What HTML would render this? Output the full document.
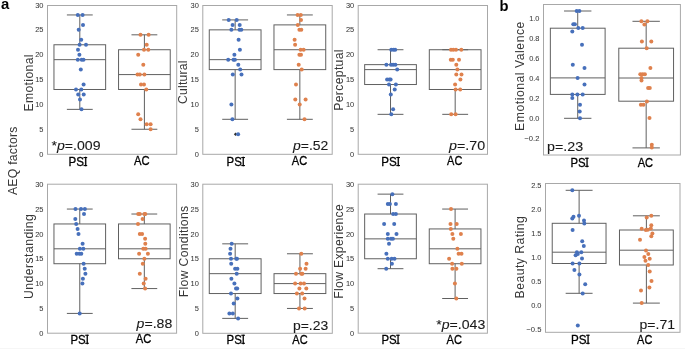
<!DOCTYPE html>
<html><head><meta charset="utf-8"><style>
html,body{margin:0;padding:0;background:#fff;width:685px;height:349px;overflow:hidden;}
svg{display:block;font-family:"Liberation Sans",sans-serif;filter:blur(0.25px);}
</style></head><body>
<svg width="685" height="349" viewBox="0 0 685 349">
<rect width="685" height="349" fill="#fff"/>
<rect x="0" y="348" width="685" height="1" fill="#f6f6f6"/>
<rect x="53.96" y="44.76" width="51.68" height="44.73" fill="none" stroke="#606060" stroke-width="1"/>
<line x1="53.96" x2="105.64" y1="59.67" y2="59.67" stroke="#606060" stroke-width="1"/>
<line x1="79.8" x2="79.8" y1="89.49" y2="109.37" stroke="#606060" stroke-width="1"/>
<line x1="79.8" x2="79.8" y1="44.76" y2="14.94" stroke="#606060" stroke-width="1"/>
<line x1="66.88" x2="92.72" y1="109.37" y2="109.37" stroke="#606060" stroke-width="1"/>
<line x1="66.88" x2="92.72" y1="14.94" y2="14.94" stroke="#606060" stroke-width="1"/>
<rect x="118.56" y="49.73" width="51.68" height="39.76" fill="none" stroke="#606060" stroke-width="1"/>
<line x1="118.56" x2="170.24" y1="74.58" y2="74.58" stroke="#606060" stroke-width="1"/>
<line x1="144.4" x2="144.4" y1="89.49" y2="129.25" stroke="#606060" stroke-width="1"/>
<line x1="144.4" x2="144.4" y1="49.73" y2="34.82" stroke="#606060" stroke-width="1"/>
<line x1="131.48" x2="157.32" y1="129.25" y2="129.25" stroke="#606060" stroke-width="1"/>
<line x1="131.48" x2="157.32" y1="34.82" y2="34.82" stroke="#606060" stroke-width="1"/>
<circle cx="77.8" cy="14.94" r="2.0" fill="#4770bb"/>
<circle cx="82.6" cy="14.94" r="2.0" fill="#4770bb"/>
<circle cx="83" cy="24.88" r="2.0" fill="#4770bb"/>
<circle cx="78.7" cy="29.85" r="2.0" fill="#4770bb"/>
<circle cx="81.2" cy="39.79" r="2.0" fill="#4770bb"/>
<circle cx="79.6" cy="44.76" r="2.0" fill="#4770bb"/>
<circle cx="86" cy="44.76" r="2.0" fill="#4770bb"/>
<circle cx="78" cy="49.73" r="2.0" fill="#4770bb"/>
<circle cx="79.4" cy="54.7" r="2.0" fill="#4770bb"/>
<circle cx="77.8" cy="59.67" r="2.0" fill="#4770bb"/>
<circle cx="81.7" cy="59.67" r="2.0" fill="#4770bb"/>
<circle cx="83.5" cy="59.67" r="2.0" fill="#4770bb"/>
<circle cx="80.8" cy="69.61" r="2.0" fill="#4770bb"/>
<circle cx="83.6" cy="84.52" r="2.0" fill="#4770bb"/>
<circle cx="76" cy="89.49" r="2.0" fill="#4770bb"/>
<circle cx="81.3" cy="89.49" r="2.0" fill="#4770bb"/>
<circle cx="78.2" cy="94.46" r="2.0" fill="#4770bb"/>
<circle cx="83.7" cy="94.46" r="2.0" fill="#4770bb"/>
<circle cx="80" cy="99.43" r="2.0" fill="#4770bb"/>
<circle cx="81.5" cy="109.37" r="2.0" fill="#4770bb"/>
<circle cx="140.5" cy="34.82" r="2.0" fill="#df814d"/>
<circle cx="148.6" cy="34.82" r="2.0" fill="#df814d"/>
<circle cx="146.7" cy="44.76" r="2.0" fill="#df814d"/>
<circle cx="144" cy="49.73" r="2.0" fill="#df814d"/>
<circle cx="148.3" cy="49.73" r="2.0" fill="#df814d"/>
<circle cx="138.2" cy="54.7" r="2.0" fill="#df814d"/>
<circle cx="143.3" cy="64.64" r="2.0" fill="#df814d"/>
<circle cx="137.5" cy="74.58" r="2.0" fill="#df814d"/>
<circle cx="139.8" cy="74.58" r="2.0" fill="#df814d"/>
<circle cx="144.4" cy="74.58" r="2.0" fill="#df814d"/>
<circle cx="141" cy="84.52" r="2.0" fill="#df814d"/>
<circle cx="144" cy="84.52" r="2.0" fill="#df814d"/>
<circle cx="146.3" cy="89.49" r="2.0" fill="#df814d"/>
<circle cx="138.2" cy="114.34" r="2.0" fill="#df814d"/>
<circle cx="140.5" cy="119.31" r="2.0" fill="#df814d"/>
<circle cx="146.7" cy="124.28" r="2.0" fill="#df814d"/>
<circle cx="150.6" cy="124.28" r="2.0" fill="#df814d"/>
<circle cx="150.6" cy="129.25" r="2.0" fill="#df814d"/>
<rect x="47.5" y="5.5" width="129.2" height="148.8" fill="none" stroke="#a8a8a8" stroke-width="1"/>
<rect x="209.27" y="29.85" width="51.76" height="39.76" fill="none" stroke="#606060" stroke-width="1"/>
<line x1="209.27" x2="261.03" y1="59.67" y2="59.67" stroke="#606060" stroke-width="1"/>
<line x1="235.15" x2="235.15" y1="69.61" y2="119.31" stroke="#606060" stroke-width="1"/>
<line x1="235.15" x2="235.15" y1="29.85" y2="19.91" stroke="#606060" stroke-width="1"/>
<line x1="222.21" x2="248.09" y1="119.31" y2="119.31" stroke="#606060" stroke-width="1"/>
<line x1="222.21" x2="248.09" y1="19.91" y2="19.91" stroke="#606060" stroke-width="1"/>
<rect x="273.97" y="24.88" width="51.76" height="44.73" fill="none" stroke="#606060" stroke-width="1"/>
<line x1="273.97" x2="325.73" y1="49.73" y2="49.73" stroke="#606060" stroke-width="1"/>
<line x1="299.85" x2="299.85" y1="69.61" y2="119.31" stroke="#606060" stroke-width="1"/>
<line x1="299.85" x2="299.85" y1="24.88" y2="14.94" stroke="#606060" stroke-width="1"/>
<line x1="286.91" x2="312.79" y1="119.31" y2="119.31" stroke="#606060" stroke-width="1"/>
<line x1="286.91" x2="312.79" y1="14.94" y2="14.94" stroke="#606060" stroke-width="1"/>
<path d="M233.85 134.22 L235.55 132.52 L237.25 134.22 L235.55 135.92 Z" fill="#333"/>
<circle cx="228.7" cy="19.91" r="2.0" fill="#4770bb"/>
<circle cx="236.7" cy="19.91" r="2.0" fill="#4770bb"/>
<circle cx="232.6" cy="24.88" r="2.0" fill="#4770bb"/>
<circle cx="239.7" cy="24.88" r="2.0" fill="#4770bb"/>
<circle cx="231.4" cy="29.85" r="2.0" fill="#4770bb"/>
<circle cx="239.5" cy="29.85" r="2.0" fill="#4770bb"/>
<circle cx="241.3" cy="29.85" r="2.0" fill="#4770bb"/>
<circle cx="238.6" cy="39.79" r="2.0" fill="#4770bb"/>
<circle cx="239.9" cy="49.73" r="2.0" fill="#4770bb"/>
<circle cx="234.4" cy="54.7" r="2.0" fill="#4770bb"/>
<circle cx="228.2" cy="59.67" r="2.0" fill="#4770bb"/>
<circle cx="233.5" cy="59.67" r="2.0" fill="#4770bb"/>
<circle cx="234.9" cy="59.67" r="2.0" fill="#4770bb"/>
<circle cx="238.3" cy="64.64" r="2.0" fill="#4770bb"/>
<circle cx="240.2" cy="69.61" r="2.0" fill="#4770bb"/>
<circle cx="232.8" cy="74.58" r="2.0" fill="#4770bb"/>
<circle cx="241.5" cy="74.58" r="2.0" fill="#4770bb"/>
<circle cx="231.4" cy="104.4" r="2.0" fill="#4770bb"/>
<circle cx="232.4" cy="119.31" r="2.0" fill="#4770bb"/>
<circle cx="238.1" cy="134.22" r="2.0" fill="#4770bb"/>
<circle cx="297.6" cy="14.94" r="2.0" fill="#df814d"/>
<circle cx="300.8" cy="14.94" r="2.0" fill="#df814d"/>
<circle cx="301" cy="19.91" r="2.0" fill="#df814d"/>
<circle cx="297.8" cy="24.88" r="2.0" fill="#df814d"/>
<circle cx="299.4" cy="29.85" r="2.0" fill="#df814d"/>
<circle cx="301.3" cy="29.85" r="2.0" fill="#df814d"/>
<circle cx="294.6" cy="39.79" r="2.0" fill="#df814d"/>
<circle cx="295.1" cy="44.76" r="2.0" fill="#df814d"/>
<circle cx="300.6" cy="49.73" r="2.0" fill="#df814d"/>
<circle cx="303.6" cy="49.73" r="2.0" fill="#df814d"/>
<circle cx="299.4" cy="54.7" r="2.0" fill="#df814d"/>
<circle cx="301" cy="54.7" r="2.0" fill="#df814d"/>
<circle cx="298.7" cy="64.64" r="2.0" fill="#df814d"/>
<circle cx="301.7" cy="69.61" r="2.0" fill="#df814d"/>
<circle cx="296" cy="84.52" r="2.0" fill="#df814d"/>
<circle cx="295.3" cy="99.43" r="2.0" fill="#df814d"/>
<circle cx="305.6" cy="99.43" r="2.0" fill="#df814d"/>
<circle cx="299.7" cy="104.4" r="2.0" fill="#df814d"/>
<circle cx="304.5" cy="119.31" r="2.0" fill="#df814d"/>
<rect x="202.8" y="5.5" width="129.4" height="148.8" fill="none" stroke="#a8a8a8" stroke-width="1"/>
<rect x="364.66" y="64.64" width="51.72" height="19.88" fill="none" stroke="#606060" stroke-width="1"/>
<line x1="364.66" x2="416.38" y1="69.61" y2="69.61" stroke="#606060" stroke-width="1"/>
<line x1="390.52" x2="390.52" y1="84.52" y2="114.34" stroke="#606060" stroke-width="1"/>
<line x1="390.52" x2="390.52" y1="64.64" y2="49.73" stroke="#606060" stroke-width="1"/>
<line x1="377.59" x2="403.45" y1="114.34" y2="114.34" stroke="#606060" stroke-width="1"/>
<line x1="377.59" x2="403.45" y1="49.73" y2="49.73" stroke="#606060" stroke-width="1"/>
<rect x="429.31" y="49.73" width="51.72" height="39.76" fill="none" stroke="#606060" stroke-width="1"/>
<line x1="429.31" x2="481.04" y1="69.61" y2="69.61" stroke="#606060" stroke-width="1"/>
<line x1="455.18" x2="455.18" y1="89.49" y2="114.34" stroke="#606060" stroke-width="1"/>
<line x1="455.18" x2="455.18" y1="49.73" y2="49.73" stroke="#606060" stroke-width="1"/>
<line x1="442.25" x2="468.11" y1="114.34" y2="114.34" stroke="#606060" stroke-width="1"/>
<line x1="442.25" x2="468.11" y1="49.73" y2="49.73" stroke="#606060" stroke-width="1"/>
<circle cx="391.3" cy="49.73" r="2.0" fill="#4770bb"/>
<circle cx="393.6" cy="49.73" r="2.0" fill="#4770bb"/>
<circle cx="395.2" cy="49.73" r="2.0" fill="#4770bb"/>
<circle cx="386.4" cy="64.64" r="2.0" fill="#4770bb"/>
<circle cx="391" cy="64.64" r="2.0" fill="#4770bb"/>
<circle cx="393.1" cy="64.64" r="2.0" fill="#4770bb"/>
<circle cx="395.4" cy="64.64" r="2.0" fill="#4770bb"/>
<circle cx="397.2" cy="69.61" r="2.0" fill="#4770bb"/>
<circle cx="387.1" cy="79.55" r="2.0" fill="#4770bb"/>
<circle cx="389.4" cy="79.55" r="2.0" fill="#4770bb"/>
<circle cx="390.6" cy="79.55" r="2.0" fill="#4770bb"/>
<circle cx="389" cy="84.52" r="2.0" fill="#4770bb"/>
<circle cx="395.9" cy="84.52" r="2.0" fill="#4770bb"/>
<circle cx="394.7" cy="89.49" r="2.0" fill="#4770bb"/>
<circle cx="390.8" cy="94.46" r="2.0" fill="#4770bb"/>
<circle cx="393.1" cy="109.37" r="2.0" fill="#4770bb"/>
<circle cx="391.3" cy="114.34" r="2.0" fill="#4770bb"/>
<circle cx="451" cy="49.73" r="2.0" fill="#df814d"/>
<circle cx="453.3" cy="49.73" r="2.0" fill="#df814d"/>
<circle cx="456" cy="49.73" r="2.0" fill="#df814d"/>
<circle cx="461.3" cy="49.73" r="2.0" fill="#df814d"/>
<circle cx="450.8" cy="59.67" r="2.0" fill="#df814d"/>
<circle cx="452.8" cy="59.67" r="2.0" fill="#df814d"/>
<circle cx="459" cy="59.67" r="2.0" fill="#df814d"/>
<circle cx="456.3" cy="64.64" r="2.0" fill="#df814d"/>
<circle cx="457.4" cy="69.61" r="2.0" fill="#df814d"/>
<circle cx="456.3" cy="74.58" r="2.0" fill="#df814d"/>
<circle cx="461.5" cy="74.58" r="2.0" fill="#df814d"/>
<circle cx="460.4" cy="79.55" r="2.0" fill="#df814d"/>
<circle cx="455.1" cy="84.52" r="2.0" fill="#df814d"/>
<circle cx="455.6" cy="89.49" r="2.0" fill="#df814d"/>
<circle cx="460.2" cy="89.49" r="2.0" fill="#df814d"/>
<circle cx="451.2" cy="114.34" r="2.0" fill="#df814d"/>
<circle cx="455.6" cy="114.34" r="2.0" fill="#df814d"/>
<rect x="358.2" y="5.5" width="129.3" height="148.8" fill="none" stroke="#a8a8a8" stroke-width="1"/>
<rect x="550.35" y="28.2" width="54.76" height="66.2" fill="none" stroke="#606060" stroke-width="1"/>
<line x1="550.35" x2="605.11" y1="77.9" y2="77.9" stroke="#606060" stroke-width="1"/>
<line x1="577.73" x2="577.73" y1="94.4" y2="118.3" stroke="#606060" stroke-width="1"/>
<line x1="577.73" x2="577.73" y1="28.2" y2="11" stroke="#606060" stroke-width="1"/>
<line x1="564.04" x2="591.41" y1="118.3" y2="118.3" stroke="#606060" stroke-width="1"/>
<line x1="564.04" x2="591.41" y1="11" y2="11" stroke="#606060" stroke-width="1"/>
<rect x="618.79" y="48.2" width="54.76" height="53" fill="none" stroke="#606060" stroke-width="1"/>
<line x1="618.79" x2="673.55" y1="78" y2="78" stroke="#606060" stroke-width="1"/>
<line x1="646.17" x2="646.17" y1="101.2" y2="147.9" stroke="#606060" stroke-width="1"/>
<line x1="646.17" x2="646.17" y1="48.2" y2="21.3" stroke="#606060" stroke-width="1"/>
<line x1="632.48" x2="659.87" y1="147.9" y2="147.9" stroke="#606060" stroke-width="1"/>
<line x1="632.48" x2="659.87" y1="21.3" y2="21.3" stroke="#606060" stroke-width="1"/>
<circle cx="576.7" cy="11" r="2.0" fill="#4770bb"/>
<circle cx="579.4" cy="11" r="2.0" fill="#4770bb"/>
<circle cx="573.3" cy="24.3" r="2.0" fill="#4770bb"/>
<circle cx="574.9" cy="24.3" r="2.0" fill="#4770bb"/>
<circle cx="578.3" cy="28" r="2.0" fill="#4770bb"/>
<circle cx="582.7" cy="28" r="2.0" fill="#4770bb"/>
<circle cx="572.3" cy="31.4" r="2.0" fill="#4770bb"/>
<circle cx="582" cy="44.7" r="2.0" fill="#4770bb"/>
<circle cx="572.8" cy="64.7" r="2.0" fill="#4770bb"/>
<circle cx="584.5" cy="68" r="2.0" fill="#4770bb"/>
<circle cx="577.6" cy="78" r="2.0" fill="#4770bb"/>
<circle cx="584.5" cy="84.5" r="2.0" fill="#4770bb"/>
<circle cx="572.3" cy="94.6" r="2.0" fill="#4770bb"/>
<circle cx="577.4" cy="94.6" r="2.0" fill="#4770bb"/>
<circle cx="582.7" cy="94.6" r="2.0" fill="#4770bb"/>
<circle cx="572.3" cy="98.1" r="2.0" fill="#4770bb"/>
<circle cx="580" cy="104.7" r="2.0" fill="#4770bb"/>
<circle cx="579.7" cy="111.4" r="2.0" fill="#4770bb"/>
<circle cx="580" cy="118.3" r="2.0" fill="#4770bb"/>
<circle cx="641.4" cy="21.3" r="2.0" fill="#df814d"/>
<circle cx="647.4" cy="21.3" r="2.0" fill="#df814d"/>
<circle cx="644.4" cy="24.5" r="2.0" fill="#df814d"/>
<circle cx="641.9" cy="41.5" r="2.0" fill="#df814d"/>
<circle cx="651.3" cy="41.5" r="2.0" fill="#df814d"/>
<circle cx="646.7" cy="48.2" r="2.0" fill="#df814d"/>
<circle cx="650.4" cy="68.1" r="2.0" fill="#df814d"/>
<circle cx="640.3" cy="74.3" r="2.0" fill="#df814d"/>
<circle cx="642.6" cy="74.3" r="2.0" fill="#df814d"/>
<circle cx="644.9" cy="74.3" r="2.0" fill="#df814d"/>
<circle cx="641.5" cy="78" r="2.0" fill="#df814d"/>
<circle cx="641.5" cy="80.6" r="2.0" fill="#df814d"/>
<circle cx="648.1" cy="88.1" r="2.0" fill="#df814d"/>
<circle cx="649.8" cy="88.1" r="2.0" fill="#df814d"/>
<circle cx="646.9" cy="101.5" r="2.0" fill="#df814d"/>
<circle cx="640.9" cy="104.7" r="2.0" fill="#df814d"/>
<circle cx="643.5" cy="104.7" r="2.0" fill="#df814d"/>
<circle cx="649.5" cy="118.1" r="2.0" fill="#df814d"/>
<circle cx="651.8" cy="144.7" r="2.0" fill="#df814d"/>
<circle cx="651.8" cy="147.6" r="2.0" fill="#df814d"/>
<rect x="543.5" y="4.5" width="136.9" height="150.5" fill="none" stroke="#a8a8a8" stroke-width="1"/>
<rect x="53.96" y="223.96" width="51.64" height="39.76" fill="none" stroke="#606060" stroke-width="1"/>
<line x1="53.96" x2="105.59" y1="248.81" y2="248.81" stroke="#606060" stroke-width="1"/>
<line x1="79.78" x2="79.78" y1="263.72" y2="313.42" stroke="#606060" stroke-width="1"/>
<line x1="79.78" x2="79.78" y1="223.96" y2="209.05" stroke="#606060" stroke-width="1"/>
<line x1="66.87" x2="92.69" y1="313.42" y2="313.42" stroke="#606060" stroke-width="1"/>
<line x1="66.87" x2="92.69" y1="209.05" y2="209.05" stroke="#606060" stroke-width="1"/>
<rect x="118.5" y="223.96" width="51.64" height="34.79" fill="none" stroke="#606060" stroke-width="1"/>
<line x1="118.5" x2="170.14" y1="248.81" y2="248.81" stroke="#606060" stroke-width="1"/>
<line x1="144.32" x2="144.32" y1="258.75" y2="288.57" stroke="#606060" stroke-width="1"/>
<line x1="144.32" x2="144.32" y1="223.96" y2="214.02" stroke="#606060" stroke-width="1"/>
<line x1="131.41" x2="157.23" y1="288.57" y2="288.57" stroke="#606060" stroke-width="1"/>
<line x1="131.41" x2="157.23" y1="214.02" y2="214.02" stroke="#606060" stroke-width="1"/>
<circle cx="75.5" cy="209.05" r="2.0" fill="#4770bb"/>
<circle cx="81" cy="209.05" r="2.0" fill="#4770bb"/>
<circle cx="84.9" cy="209.05" r="2.0" fill="#4770bb"/>
<circle cx="84" cy="214.02" r="2.0" fill="#4770bb"/>
<circle cx="75.3" cy="218.99" r="2.0" fill="#4770bb"/>
<circle cx="76.2" cy="223.96" r="2.0" fill="#4770bb"/>
<circle cx="77.6" cy="228.93" r="2.0" fill="#4770bb"/>
<circle cx="78.5" cy="233.9" r="2.0" fill="#4770bb"/>
<circle cx="82.6" cy="243.84" r="2.0" fill="#4770bb"/>
<circle cx="79.9" cy="248.81" r="2.0" fill="#4770bb"/>
<circle cx="83.3" cy="248.81" r="2.0" fill="#4770bb"/>
<circle cx="76.7" cy="253.78" r="2.0" fill="#4770bb"/>
<circle cx="79.4" cy="253.78" r="2.0" fill="#4770bb"/>
<circle cx="81.3" cy="253.78" r="2.0" fill="#4770bb"/>
<circle cx="83.6" cy="263.72" r="2.0" fill="#4770bb"/>
<circle cx="84.7" cy="268.69" r="2.0" fill="#4770bb"/>
<circle cx="85.4" cy="273.66" r="2.0" fill="#4770bb"/>
<circle cx="82.9" cy="278.63" r="2.0" fill="#4770bb"/>
<circle cx="82.4" cy="283.6" r="2.0" fill="#4770bb"/>
<circle cx="79.7" cy="313.42" r="2.0" fill="#4770bb"/>
<circle cx="138.2" cy="214.02" r="2.0" fill="#df814d"/>
<circle cx="139.8" cy="214.02" r="2.0" fill="#df814d"/>
<circle cx="144.4" cy="214.02" r="2.0" fill="#df814d"/>
<circle cx="145.3" cy="214.02" r="2.0" fill="#df814d"/>
<circle cx="142.6" cy="218.99" r="2.0" fill="#df814d"/>
<circle cx="138" cy="223.96" r="2.0" fill="#df814d"/>
<circle cx="139.8" cy="233.9" r="2.0" fill="#df814d"/>
<circle cx="142.1" cy="233.9" r="2.0" fill="#df814d"/>
<circle cx="145.1" cy="238.87" r="2.0" fill="#df814d"/>
<circle cx="145.3" cy="243.84" r="2.0" fill="#df814d"/>
<circle cx="143.3" cy="248.81" r="2.0" fill="#df814d"/>
<circle cx="145.6" cy="248.81" r="2.0" fill="#df814d"/>
<circle cx="139.1" cy="253.78" r="2.0" fill="#df814d"/>
<circle cx="147.9" cy="253.78" r="2.0" fill="#df814d"/>
<circle cx="144.4" cy="258.75" r="2.0" fill="#df814d"/>
<circle cx="142.8" cy="263.72" r="2.0" fill="#df814d"/>
<circle cx="139.8" cy="273.66" r="2.0" fill="#df814d"/>
<circle cx="145.6" cy="278.63" r="2.0" fill="#df814d"/>
<circle cx="143.7" cy="283.6" r="2.0" fill="#df814d"/>
<circle cx="145.1" cy="288.57" r="2.0" fill="#df814d"/>
<rect x="47.5" y="184.2" width="129.1" height="149" fill="none" stroke="#a8a8a8" stroke-width="1"/>
<rect x="209.28" y="258.75" width="51.8" height="34.79" fill="none" stroke="#606060" stroke-width="1"/>
<line x1="209.28" x2="261.07" y1="273.66" y2="273.66" stroke="#606060" stroke-width="1"/>
<line x1="235.18" x2="235.18" y1="293.54" y2="318.39" stroke="#606060" stroke-width="1"/>
<line x1="235.18" x2="235.18" y1="258.75" y2="243.84" stroke="#606060" stroke-width="1"/>
<line x1="222.23" x2="248.12" y1="318.39" y2="318.39" stroke="#606060" stroke-width="1"/>
<line x1="222.23" x2="248.12" y1="243.84" y2="243.84" stroke="#606060" stroke-width="1"/>
<rect x="274.03" y="273.66" width="51.8" height="19.88" fill="none" stroke="#606060" stroke-width="1"/>
<line x1="274.03" x2="325.82" y1="283.6" y2="283.6" stroke="#606060" stroke-width="1"/>
<line x1="299.93" x2="299.93" y1="293.54" y2="308.45" stroke="#606060" stroke-width="1"/>
<line x1="299.93" x2="299.93" y1="273.66" y2="253.78" stroke="#606060" stroke-width="1"/>
<line x1="286.98" x2="312.88" y1="308.45" y2="308.45" stroke="#606060" stroke-width="1"/>
<line x1="286.98" x2="312.88" y1="253.78" y2="253.78" stroke="#606060" stroke-width="1"/>
<circle cx="231.7" cy="243.84" r="2.0" fill="#4770bb"/>
<circle cx="230.5" cy="248.81" r="2.0" fill="#4770bb"/>
<circle cx="230.1" cy="253.78" r="2.0" fill="#4770bb"/>
<circle cx="231" cy="258.75" r="2.0" fill="#4770bb"/>
<circle cx="236.3" cy="258.75" r="2.0" fill="#4770bb"/>
<circle cx="237" cy="258.75" r="2.0" fill="#4770bb"/>
<circle cx="231.2" cy="263.72" r="2.0" fill="#4770bb"/>
<circle cx="235.1" cy="268.69" r="2.0" fill="#4770bb"/>
<circle cx="237.4" cy="268.69" r="2.0" fill="#4770bb"/>
<circle cx="236.7" cy="273.66" r="2.0" fill="#4770bb"/>
<circle cx="231.4" cy="278.63" r="2.0" fill="#4770bb"/>
<circle cx="234.4" cy="283.6" r="2.0" fill="#4770bb"/>
<circle cx="236" cy="288.57" r="2.0" fill="#4770bb"/>
<circle cx="237.2" cy="288.57" r="2.0" fill="#4770bb"/>
<circle cx="231" cy="293.54" r="2.0" fill="#4770bb"/>
<circle cx="237.4" cy="298.51" r="2.0" fill="#4770bb"/>
<circle cx="233.7" cy="303.48" r="2.0" fill="#4770bb"/>
<circle cx="229.4" cy="313.42" r="2.0" fill="#4770bb"/>
<circle cx="232.8" cy="313.42" r="2.0" fill="#4770bb"/>
<circle cx="238.1" cy="318.39" r="2.0" fill="#4770bb"/>
<circle cx="301.3" cy="253.78" r="2.0" fill="#df814d"/>
<circle cx="306.5" cy="263.72" r="2.0" fill="#df814d"/>
<circle cx="300.1" cy="268.69" r="2.0" fill="#df814d"/>
<circle cx="305.6" cy="268.69" r="2.0" fill="#df814d"/>
<circle cx="296" cy="273.66" r="2.0" fill="#df814d"/>
<circle cx="301.3" cy="273.66" r="2.0" fill="#df814d"/>
<circle cx="302.4" cy="273.66" r="2.0" fill="#df814d"/>
<circle cx="295.1" cy="283.6" r="2.0" fill="#df814d"/>
<circle cx="300.6" cy="283.6" r="2.0" fill="#df814d"/>
<circle cx="304" cy="283.6" r="2.0" fill="#df814d"/>
<circle cx="299.4" cy="288.57" r="2.0" fill="#df814d"/>
<circle cx="306.3" cy="288.57" r="2.0" fill="#df814d"/>
<circle cx="296.9" cy="293.54" r="2.0" fill="#df814d"/>
<circle cx="302.2" cy="293.54" r="2.0" fill="#df814d"/>
<circle cx="304.5" cy="298.51" r="2.0" fill="#df814d"/>
<circle cx="299" cy="308.45" r="2.0" fill="#df814d"/>
<circle cx="304.7" cy="308.45" r="2.0" fill="#df814d"/>
<rect x="202.8" y="184.2" width="129.5" height="149.1" fill="none" stroke="#a8a8a8" stroke-width="1"/>
<rect x="364.66" y="214.02" width="51.68" height="44.73" fill="none" stroke="#606060" stroke-width="1"/>
<line x1="364.66" x2="416.34" y1="238.87" y2="238.87" stroke="#606060" stroke-width="1"/>
<line x1="390.5" x2="390.5" y1="258.75" y2="268.69" stroke="#606060" stroke-width="1"/>
<line x1="390.5" x2="390.5" y1="214.02" y2="194.14" stroke="#606060" stroke-width="1"/>
<line x1="377.58" x2="403.42" y1="268.69" y2="268.69" stroke="#606060" stroke-width="1"/>
<line x1="377.58" x2="403.42" y1="194.14" y2="194.14" stroke="#606060" stroke-width="1"/>
<rect x="429.26" y="228.93" width="51.68" height="34.79" fill="none" stroke="#606060" stroke-width="1"/>
<line x1="429.26" x2="480.94" y1="248.81" y2="248.81" stroke="#606060" stroke-width="1"/>
<line x1="455.1" x2="455.1" y1="263.72" y2="298.51" stroke="#606060" stroke-width="1"/>
<line x1="455.1" x2="455.1" y1="228.93" y2="209.05" stroke="#606060" stroke-width="1"/>
<line x1="442.18" x2="468.02" y1="298.51" y2="298.51" stroke="#606060" stroke-width="1"/>
<line x1="442.18" x2="468.02" y1="209.05" y2="209.05" stroke="#606060" stroke-width="1"/>
<circle cx="392.4" cy="194.14" r="2.0" fill="#4770bb"/>
<circle cx="387.8" cy="204.08" r="2.0" fill="#4770bb"/>
<circle cx="389.9" cy="204.08" r="2.0" fill="#4770bb"/>
<circle cx="395.9" cy="204.08" r="2.0" fill="#4770bb"/>
<circle cx="393.1" cy="214.02" r="2.0" fill="#4770bb"/>
<circle cx="395.9" cy="214.02" r="2.0" fill="#4770bb"/>
<circle cx="384.1" cy="223.96" r="2.0" fill="#4770bb"/>
<circle cx="394.2" cy="223.96" r="2.0" fill="#4770bb"/>
<circle cx="387.8" cy="233.9" r="2.0" fill="#4770bb"/>
<circle cx="396.5" cy="233.9" r="2.0" fill="#4770bb"/>
<circle cx="387.8" cy="238.87" r="2.0" fill="#4770bb"/>
<circle cx="391" cy="238.87" r="2.0" fill="#4770bb"/>
<circle cx="392.9" cy="238.87" r="2.0" fill="#4770bb"/>
<circle cx="389" cy="243.84" r="2.0" fill="#4770bb"/>
<circle cx="386.4" cy="253.78" r="2.0" fill="#4770bb"/>
<circle cx="387.8" cy="258.75" r="2.0" fill="#4770bb"/>
<circle cx="391.7" cy="258.75" r="2.0" fill="#4770bb"/>
<circle cx="394.5" cy="258.75" r="2.0" fill="#4770bb"/>
<circle cx="391.9" cy="263.72" r="2.0" fill="#4770bb"/>
<circle cx="386.2" cy="268.69" r="2.0" fill="#4770bb"/>
<circle cx="451" cy="209.05" r="2.0" fill="#df814d"/>
<circle cx="450.5" cy="223.96" r="2.0" fill="#df814d"/>
<circle cx="456.7" cy="223.96" r="2.0" fill="#df814d"/>
<circle cx="450.8" cy="228.93" r="2.0" fill="#df814d"/>
<circle cx="452.4" cy="233.9" r="2.0" fill="#df814d"/>
<circle cx="460.9" cy="233.9" r="2.0" fill="#df814d"/>
<circle cx="453.3" cy="238.87" r="2.0" fill="#df814d"/>
<circle cx="457.4" cy="248.81" r="2.0" fill="#df814d"/>
<circle cx="458.6" cy="253.78" r="2.0" fill="#df814d"/>
<circle cx="461.5" cy="253.78" r="2.0" fill="#df814d"/>
<circle cx="449.1" cy="258.75" r="2.0" fill="#df814d"/>
<circle cx="452.1" cy="263.72" r="2.0" fill="#df814d"/>
<circle cx="461.8" cy="263.72" r="2.0" fill="#df814d"/>
<circle cx="452.4" cy="268.69" r="2.0" fill="#df814d"/>
<circle cx="456.4" cy="268.69" r="2.0" fill="#df814d"/>
<circle cx="454.9" cy="283.6" r="2.0" fill="#df814d"/>
<circle cx="456.3" cy="298.51" r="2.0" fill="#df814d"/>
<rect x="358.2" y="184.2" width="129.2" height="149" fill="none" stroke="#a8a8a8" stroke-width="1"/>
<rect x="552.23" y="223.3" width="53.8" height="40.2" fill="none" stroke="#606060" stroke-width="1"/>
<line x1="552.23" x2="606.02" y1="252.2" y2="252.2" stroke="#606060" stroke-width="1"/>
<line x1="579.12" x2="579.12" y1="263.5" y2="293.3" stroke="#606060" stroke-width="1"/>
<line x1="579.12" x2="579.12" y1="223.3" y2="190.3" stroke="#606060" stroke-width="1"/>
<line x1="565.67" x2="592.58" y1="293.3" y2="293.3" stroke="#606060" stroke-width="1"/>
<line x1="565.67" x2="592.58" y1="190.3" y2="190.3" stroke="#606060" stroke-width="1"/>
<rect x="619.48" y="230" width="53.8" height="35" fill="none" stroke="#606060" stroke-width="1"/>
<line x1="619.48" x2="673.27" y1="250.2" y2="250.2" stroke="#606060" stroke-width="1"/>
<line x1="646.38" x2="646.38" y1="265" y2="303.1" stroke="#606060" stroke-width="1"/>
<line x1="646.38" x2="646.38" y1="230" y2="215.8" stroke="#606060" stroke-width="1"/>
<line x1="632.92" x2="659.83" y1="303.1" y2="303.1" stroke="#606060" stroke-width="1"/>
<line x1="632.92" x2="659.83" y1="215.8" y2="215.8" stroke="#606060" stroke-width="1"/>
<circle cx="572.3" cy="190.3" r="2.0" fill="#4770bb"/>
<circle cx="573.5" cy="216.7" r="2.0" fill="#4770bb"/>
<circle cx="572.3" cy="218.5" r="2.0" fill="#4770bb"/>
<circle cx="579" cy="215.8" r="2.0" fill="#4770bb"/>
<circle cx="584" cy="220.4" r="2.0" fill="#4770bb"/>
<circle cx="584.3" cy="223.6" r="2.0" fill="#4770bb"/>
<circle cx="572.6" cy="230" r="2.0" fill="#4770bb"/>
<circle cx="582.2" cy="241.2" r="2.0" fill="#4770bb"/>
<circle cx="583.8" cy="246.1" r="2.0" fill="#4770bb"/>
<circle cx="576.9" cy="252.2" r="2.0" fill="#4770bb"/>
<circle cx="581.3" cy="252.2" r="2.0" fill="#4770bb"/>
<circle cx="575.6" cy="255.2" r="2.0" fill="#4770bb"/>
<circle cx="577.8" cy="253.9" r="2.0" fill="#4770bb"/>
<circle cx="582" cy="258.6" r="2.0" fill="#4770bb"/>
<circle cx="572.6" cy="263.5" r="2.0" fill="#4770bb"/>
<circle cx="579.4" cy="263.5" r="2.0" fill="#4770bb"/>
<circle cx="574.4" cy="270" r="2.0" fill="#4770bb"/>
<circle cx="579.4" cy="274.5" r="2.0" fill="#4770bb"/>
<circle cx="585.2" cy="284.2" r="2.0" fill="#4770bb"/>
<circle cx="582.7" cy="293.5" r="2.0" fill="#4770bb"/>
<circle cx="577.8" cy="325.4" r="2.0" fill="#4770bb"/>
<circle cx="646.7" cy="217.4" r="2.0" fill="#df814d"/>
<circle cx="651.3" cy="215.8" r="2.0" fill="#df814d"/>
<circle cx="651.3" cy="225.2" r="2.0" fill="#df814d"/>
<circle cx="641.7" cy="228.7" r="2.0" fill="#df814d"/>
<circle cx="645.8" cy="230" r="2.0" fill="#df814d"/>
<circle cx="647.8" cy="229.8" r="2.0" fill="#df814d"/>
<circle cx="650.8" cy="228.5" r="2.0" fill="#df814d"/>
<circle cx="652.4" cy="233.5" r="2.0" fill="#df814d"/>
<circle cx="651.3" cy="236.2" r="2.0" fill="#df814d"/>
<circle cx="640" cy="239.7" r="2.0" fill="#df814d"/>
<circle cx="646" cy="250.5" r="2.0" fill="#df814d"/>
<circle cx="648.3" cy="253.9" r="2.0" fill="#df814d"/>
<circle cx="644.4" cy="256.9" r="2.0" fill="#df814d"/>
<circle cx="649.7" cy="258.7" r="2.0" fill="#df814d"/>
<circle cx="645.5" cy="260.8" r="2.0" fill="#df814d"/>
<circle cx="648.2" cy="265" r="2.0" fill="#df814d"/>
<circle cx="649.7" cy="271.5" r="2.0" fill="#df814d"/>
<circle cx="651.5" cy="281.1" r="2.0" fill="#df814d"/>
<circle cx="649.4" cy="287.5" r="2.0" fill="#df814d"/>
<circle cx="641" cy="290.5" r="2.0" fill="#df814d"/>
<circle cx="641.7" cy="303.1" r="2.0" fill="#df814d"/>
<rect x="545.5" y="183.5" width="134.5" height="148.8" fill="none" stroke="#a8a8a8" stroke-width="1"/>
<g style="filter:grayscale(1)">
<text x="43.5" y="156.7" font-size="8.1" text-anchor="end" fill="#3a3a3a" stroke="#3a3a3a" stroke-width="0.05" font-family="Liberation Sans, sans-serif" textLength="4.15" lengthAdjust="spacingAndGlyphs">0</text>
<text x="43.5" y="131.85" font-size="8.1" text-anchor="end" fill="#3a3a3a" stroke="#3a3a3a" stroke-width="0.05" font-family="Liberation Sans, sans-serif" textLength="4.15" lengthAdjust="spacingAndGlyphs">5</text>
<text x="43.5" y="107" font-size="8.1" text-anchor="end" fill="#3a3a3a" stroke="#3a3a3a" stroke-width="0.05" font-family="Liberation Sans, sans-serif" textLength="8.3" lengthAdjust="spacingAndGlyphs">10</text>
<text x="43.5" y="82.15" font-size="8.1" text-anchor="end" fill="#3a3a3a" stroke="#3a3a3a" stroke-width="0.05" font-family="Liberation Sans, sans-serif" textLength="8.3" lengthAdjust="spacingAndGlyphs">15</text>
<text x="43.5" y="57.3" font-size="8.1" text-anchor="end" fill="#3a3a3a" stroke="#3a3a3a" stroke-width="0.05" font-family="Liberation Sans, sans-serif" textLength="8.3" lengthAdjust="spacingAndGlyphs">20</text>
<text x="43.5" y="32.45" font-size="8.1" text-anchor="end" fill="#3a3a3a" stroke="#3a3a3a" stroke-width="0.05" font-family="Liberation Sans, sans-serif" textLength="8.3" lengthAdjust="spacingAndGlyphs">25</text>
<text x="43.5" y="7.6" font-size="8.1" text-anchor="end" fill="#3a3a3a" stroke="#3a3a3a" stroke-width="0.05" font-family="Liberation Sans, sans-serif" textLength="8.3" lengthAdjust="spacingAndGlyphs">30</text>
<text x="198.8" y="156.7" font-size="8.1" text-anchor="end" fill="#3a3a3a" stroke="#3a3a3a" stroke-width="0.05" font-family="Liberation Sans, sans-serif" textLength="4.15" lengthAdjust="spacingAndGlyphs">0</text>
<text x="198.8" y="131.85" font-size="8.1" text-anchor="end" fill="#3a3a3a" stroke="#3a3a3a" stroke-width="0.05" font-family="Liberation Sans, sans-serif" textLength="4.15" lengthAdjust="spacingAndGlyphs">5</text>
<text x="198.8" y="107" font-size="8.1" text-anchor="end" fill="#3a3a3a" stroke="#3a3a3a" stroke-width="0.05" font-family="Liberation Sans, sans-serif" textLength="8.3" lengthAdjust="spacingAndGlyphs">10</text>
<text x="198.8" y="82.15" font-size="8.1" text-anchor="end" fill="#3a3a3a" stroke="#3a3a3a" stroke-width="0.05" font-family="Liberation Sans, sans-serif" textLength="8.3" lengthAdjust="spacingAndGlyphs">15</text>
<text x="198.8" y="57.3" font-size="8.1" text-anchor="end" fill="#3a3a3a" stroke="#3a3a3a" stroke-width="0.05" font-family="Liberation Sans, sans-serif" textLength="8.3" lengthAdjust="spacingAndGlyphs">20</text>
<text x="198.8" y="32.45" font-size="8.1" text-anchor="end" fill="#3a3a3a" stroke="#3a3a3a" stroke-width="0.05" font-family="Liberation Sans, sans-serif" textLength="8.3" lengthAdjust="spacingAndGlyphs">25</text>
<text x="198.8" y="7.6" font-size="8.1" text-anchor="end" fill="#3a3a3a" stroke="#3a3a3a" stroke-width="0.05" font-family="Liberation Sans, sans-serif" textLength="8.3" lengthAdjust="spacingAndGlyphs">30</text>
<text x="354.2" y="156.7" font-size="8.1" text-anchor="end" fill="#3a3a3a" stroke="#3a3a3a" stroke-width="0.05" font-family="Liberation Sans, sans-serif" textLength="4.15" lengthAdjust="spacingAndGlyphs">0</text>
<text x="354.2" y="131.85" font-size="8.1" text-anchor="end" fill="#3a3a3a" stroke="#3a3a3a" stroke-width="0.05" font-family="Liberation Sans, sans-serif" textLength="4.15" lengthAdjust="spacingAndGlyphs">5</text>
<text x="354.2" y="107" font-size="8.1" text-anchor="end" fill="#3a3a3a" stroke="#3a3a3a" stroke-width="0.05" font-family="Liberation Sans, sans-serif" textLength="8.3" lengthAdjust="spacingAndGlyphs">10</text>
<text x="354.2" y="82.15" font-size="8.1" text-anchor="end" fill="#3a3a3a" stroke="#3a3a3a" stroke-width="0.05" font-family="Liberation Sans, sans-serif" textLength="8.3" lengthAdjust="spacingAndGlyphs">15</text>
<text x="354.2" y="57.3" font-size="8.1" text-anchor="end" fill="#3a3a3a" stroke="#3a3a3a" stroke-width="0.05" font-family="Liberation Sans, sans-serif" textLength="8.3" lengthAdjust="spacingAndGlyphs">20</text>
<text x="354.2" y="32.45" font-size="8.1" text-anchor="end" fill="#3a3a3a" stroke="#3a3a3a" stroke-width="0.05" font-family="Liberation Sans, sans-serif" textLength="8.3" lengthAdjust="spacingAndGlyphs">25</text>
<text x="354.2" y="7.6" font-size="8.1" text-anchor="end" fill="#3a3a3a" stroke="#3a3a3a" stroke-width="0.05" font-family="Liberation Sans, sans-serif" textLength="8.3" lengthAdjust="spacingAndGlyphs">30</text>
<text x="43.5" y="335.9" font-size="8.1" text-anchor="end" fill="#3a3a3a" stroke="#3a3a3a" stroke-width="0.05" font-family="Liberation Sans, sans-serif" textLength="4.15" lengthAdjust="spacingAndGlyphs">0</text>
<text x="43.5" y="311.05" font-size="8.1" text-anchor="end" fill="#3a3a3a" stroke="#3a3a3a" stroke-width="0.05" font-family="Liberation Sans, sans-serif" textLength="4.15" lengthAdjust="spacingAndGlyphs">5</text>
<text x="43.5" y="286.2" font-size="8.1" text-anchor="end" fill="#3a3a3a" stroke="#3a3a3a" stroke-width="0.05" font-family="Liberation Sans, sans-serif" textLength="8.3" lengthAdjust="spacingAndGlyphs">10</text>
<text x="43.5" y="261.35" font-size="8.1" text-anchor="end" fill="#3a3a3a" stroke="#3a3a3a" stroke-width="0.05" font-family="Liberation Sans, sans-serif" textLength="8.3" lengthAdjust="spacingAndGlyphs">15</text>
<text x="43.5" y="236.5" font-size="8.1" text-anchor="end" fill="#3a3a3a" stroke="#3a3a3a" stroke-width="0.05" font-family="Liberation Sans, sans-serif" textLength="8.3" lengthAdjust="spacingAndGlyphs">20</text>
<text x="43.5" y="211.65" font-size="8.1" text-anchor="end" fill="#3a3a3a" stroke="#3a3a3a" stroke-width="0.05" font-family="Liberation Sans, sans-serif" textLength="8.3" lengthAdjust="spacingAndGlyphs">25</text>
<text x="43.5" y="186.8" font-size="8.1" text-anchor="end" fill="#3a3a3a" stroke="#3a3a3a" stroke-width="0.05" font-family="Liberation Sans, sans-serif" textLength="8.3" lengthAdjust="spacingAndGlyphs">30</text>
<text x="198.8" y="335.9" font-size="8.1" text-anchor="end" fill="#3a3a3a" stroke="#3a3a3a" stroke-width="0.05" font-family="Liberation Sans, sans-serif" textLength="4.15" lengthAdjust="spacingAndGlyphs">0</text>
<text x="198.8" y="311.05" font-size="8.1" text-anchor="end" fill="#3a3a3a" stroke="#3a3a3a" stroke-width="0.05" font-family="Liberation Sans, sans-serif" textLength="4.15" lengthAdjust="spacingAndGlyphs">5</text>
<text x="198.8" y="286.2" font-size="8.1" text-anchor="end" fill="#3a3a3a" stroke="#3a3a3a" stroke-width="0.05" font-family="Liberation Sans, sans-serif" textLength="8.3" lengthAdjust="spacingAndGlyphs">10</text>
<text x="198.8" y="261.35" font-size="8.1" text-anchor="end" fill="#3a3a3a" stroke="#3a3a3a" stroke-width="0.05" font-family="Liberation Sans, sans-serif" textLength="8.3" lengthAdjust="spacingAndGlyphs">15</text>
<text x="198.8" y="236.5" font-size="8.1" text-anchor="end" fill="#3a3a3a" stroke="#3a3a3a" stroke-width="0.05" font-family="Liberation Sans, sans-serif" textLength="8.3" lengthAdjust="spacingAndGlyphs">20</text>
<text x="198.8" y="211.65" font-size="8.1" text-anchor="end" fill="#3a3a3a" stroke="#3a3a3a" stroke-width="0.05" font-family="Liberation Sans, sans-serif" textLength="8.3" lengthAdjust="spacingAndGlyphs">25</text>
<text x="198.8" y="186.8" font-size="8.1" text-anchor="end" fill="#3a3a3a" stroke="#3a3a3a" stroke-width="0.05" font-family="Liberation Sans, sans-serif" textLength="8.3" lengthAdjust="spacingAndGlyphs">30</text>
<text x="354.2" y="335.9" font-size="8.1" text-anchor="end" fill="#3a3a3a" stroke="#3a3a3a" stroke-width="0.05" font-family="Liberation Sans, sans-serif" textLength="4.15" lengthAdjust="spacingAndGlyphs">0</text>
<text x="354.2" y="311.05" font-size="8.1" text-anchor="end" fill="#3a3a3a" stroke="#3a3a3a" stroke-width="0.05" font-family="Liberation Sans, sans-serif" textLength="4.15" lengthAdjust="spacingAndGlyphs">5</text>
<text x="354.2" y="286.2" font-size="8.1" text-anchor="end" fill="#3a3a3a" stroke="#3a3a3a" stroke-width="0.05" font-family="Liberation Sans, sans-serif" textLength="8.3" lengthAdjust="spacingAndGlyphs">10</text>
<text x="354.2" y="261.35" font-size="8.1" text-anchor="end" fill="#3a3a3a" stroke="#3a3a3a" stroke-width="0.05" font-family="Liberation Sans, sans-serif" textLength="8.3" lengthAdjust="spacingAndGlyphs">15</text>
<text x="354.2" y="236.5" font-size="8.1" text-anchor="end" fill="#3a3a3a" stroke="#3a3a3a" stroke-width="0.05" font-family="Liberation Sans, sans-serif" textLength="8.3" lengthAdjust="spacingAndGlyphs">20</text>
<text x="354.2" y="211.65" font-size="8.1" text-anchor="end" fill="#3a3a3a" stroke="#3a3a3a" stroke-width="0.05" font-family="Liberation Sans, sans-serif" textLength="8.3" lengthAdjust="spacingAndGlyphs">25</text>
<text x="354.2" y="186.8" font-size="8.1" text-anchor="end" fill="#3a3a3a" stroke="#3a3a3a" stroke-width="0.05" font-family="Liberation Sans, sans-serif" textLength="8.3" lengthAdjust="spacingAndGlyphs">30</text>
<text x="539.5" y="141.36" font-size="8.1" text-anchor="end" fill="#3a3a3a" stroke="#3a3a3a" stroke-width="0.05" font-family="Liberation Sans, sans-serif" textLength="15.1" lengthAdjust="spacingAndGlyphs">−0.2</text>
<text x="539.5" y="121.3" font-size="8.1" text-anchor="end" fill="#3a3a3a" stroke="#3a3a3a" stroke-width="0.05" font-family="Liberation Sans, sans-serif" textLength="10.3" lengthAdjust="spacingAndGlyphs">0.0</text>
<text x="539.5" y="101.24" font-size="8.1" text-anchor="end" fill="#3a3a3a" stroke="#3a3a3a" stroke-width="0.05" font-family="Liberation Sans, sans-serif" textLength="10.3" lengthAdjust="spacingAndGlyphs">0.2</text>
<text x="539.5" y="81.18" font-size="8.1" text-anchor="end" fill="#3a3a3a" stroke="#3a3a3a" stroke-width="0.05" font-family="Liberation Sans, sans-serif" textLength="10.3" lengthAdjust="spacingAndGlyphs">0.4</text>
<text x="539.5" y="61.12" font-size="8.1" text-anchor="end" fill="#3a3a3a" stroke="#3a3a3a" stroke-width="0.05" font-family="Liberation Sans, sans-serif" textLength="10.3" lengthAdjust="spacingAndGlyphs">0.6</text>
<text x="539.5" y="41.06" font-size="8.1" text-anchor="end" fill="#3a3a3a" stroke="#3a3a3a" stroke-width="0.05" font-family="Liberation Sans, sans-serif" textLength="10.3" lengthAdjust="spacingAndGlyphs">0.8</text>
<text x="539.5" y="21" font-size="8.1" text-anchor="end" fill="#3a3a3a" stroke="#3a3a3a" stroke-width="0.05" font-family="Liberation Sans, sans-serif" textLength="10.3" lengthAdjust="spacingAndGlyphs">1.0</text>
<text x="541.5" y="331.55" font-size="8.1" text-anchor="end" fill="#3a3a3a" stroke="#3a3a3a" stroke-width="0.05" font-family="Liberation Sans, sans-serif" textLength="15.1" lengthAdjust="spacingAndGlyphs">−0.5</text>
<text x="541.5" y="307.7" font-size="8.1" text-anchor="end" fill="#3a3a3a" stroke="#3a3a3a" stroke-width="0.05" font-family="Liberation Sans, sans-serif" textLength="10.3" lengthAdjust="spacingAndGlyphs">0.0</text>
<text x="541.5" y="283.85" font-size="8.1" text-anchor="end" fill="#3a3a3a" stroke="#3a3a3a" stroke-width="0.05" font-family="Liberation Sans, sans-serif" textLength="10.3" lengthAdjust="spacingAndGlyphs">0.5</text>
<text x="541.5" y="260" font-size="8.1" text-anchor="end" fill="#3a3a3a" stroke="#3a3a3a" stroke-width="0.05" font-family="Liberation Sans, sans-serif" textLength="10.3" lengthAdjust="spacingAndGlyphs">1.0</text>
<text x="541.5" y="236.15" font-size="8.1" text-anchor="end" fill="#3a3a3a" stroke="#3a3a3a" stroke-width="0.05" font-family="Liberation Sans, sans-serif" textLength="10.3" lengthAdjust="spacingAndGlyphs">1.5</text>
<text x="541.5" y="212.3" font-size="8.1" text-anchor="end" fill="#3a3a3a" stroke="#3a3a3a" stroke-width="0.05" font-family="Liberation Sans, sans-serif" textLength="10.3" lengthAdjust="spacingAndGlyphs">2.0</text>
<text x="541.5" y="188.45" font-size="8.1" text-anchor="end" fill="#3a3a3a" stroke="#3a3a3a" stroke-width="0.05" font-family="Liberation Sans, sans-serif" textLength="10.3" lengthAdjust="spacingAndGlyphs">2.5</text>
<text x="77.9" y="166" font-size="12.4" text-anchor="middle" fill="#000" stroke="#000" stroke-width="0.3" font-family="Liberation Sans, sans-serif" textLength="18.7" lengthAdjust="spacingAndGlyphs">PSI</text>
<rect x="83.49" y="157.02" width="3.7" height="1.05" fill="#000"/>
<rect x="83.49" y="165.05" width="3.7" height="1.05" fill="#000"/>
<text x="141.7" y="165" font-size="12.4" text-anchor="middle" fill="#000" stroke="#000" stroke-width="0.3" font-family="Liberation Sans, sans-serif" textLength="15.6" lengthAdjust="spacingAndGlyphs">AC</text>
<text x="235.8" y="166" font-size="12.4" text-anchor="middle" fill="#000" stroke="#000" stroke-width="0.3" font-family="Liberation Sans, sans-serif" textLength="18.4" lengthAdjust="spacingAndGlyphs">PSI</text>
<rect x="241.27" y="157.02" width="3.7" height="1.05" fill="#000"/>
<rect x="241.27" y="165.05" width="3.7" height="1.05" fill="#000"/>
<text x="299.5" y="165.2" font-size="12.4" text-anchor="middle" fill="#000" stroke="#000" stroke-width="0.3" font-family="Liberation Sans, sans-serif" textLength="15.4" lengthAdjust="spacingAndGlyphs">AC</text>
<text x="390.7" y="166" font-size="12.4" text-anchor="middle" fill="#000" stroke="#000" stroke-width="0.3" font-family="Liberation Sans, sans-serif" textLength="18.7" lengthAdjust="spacingAndGlyphs">PSI</text>
<rect x="396.29" y="157.02" width="3.7" height="1.05" fill="#000"/>
<rect x="396.29" y="165.05" width="3.7" height="1.05" fill="#000"/>
<text x="454.7" y="165.1" font-size="12.4" text-anchor="middle" fill="#000" stroke="#000" stroke-width="0.3" font-family="Liberation Sans, sans-serif" textLength="15.2" lengthAdjust="spacingAndGlyphs">AC</text>
<text x="579.6" y="166.7" font-size="12.4" text-anchor="middle" fill="#000" stroke="#000" stroke-width="0.3" font-family="Liberation Sans, sans-serif" textLength="18.3" lengthAdjust="spacingAndGlyphs">PSI</text>
<rect x="585.03" y="157.72" width="3.7" height="1.05" fill="#000"/>
<rect x="585.03" y="165.75" width="3.7" height="1.05" fill="#000"/>
<text x="645.4" y="166.7" font-size="12.4" text-anchor="middle" fill="#000" stroke="#000" stroke-width="0.3" font-family="Liberation Sans, sans-serif" textLength="15.4" lengthAdjust="spacingAndGlyphs">AC</text>
<text x="79.7" y="343.7" font-size="12.4" text-anchor="middle" fill="#000" stroke="#000" stroke-width="0.3" font-family="Liberation Sans, sans-serif" textLength="18.4" lengthAdjust="spacingAndGlyphs">PSI</text>
<rect x="85.17" y="334.72" width="3.7" height="1.05" fill="#000"/>
<rect x="85.17" y="342.75" width="3.7" height="1.05" fill="#000"/>
<text x="143.5" y="342.8" font-size="12.4" text-anchor="middle" fill="#000" stroke="#000" stroke-width="0.3" font-family="Liberation Sans, sans-serif" textLength="15.5" lengthAdjust="spacingAndGlyphs">AC</text>
<text x="235.8" y="343.7" font-size="12.4" text-anchor="middle" fill="#000" stroke="#000" stroke-width="0.3" font-family="Liberation Sans, sans-serif" textLength="18.4" lengthAdjust="spacingAndGlyphs">PSI</text>
<rect x="241.27" y="334.72" width="3.7" height="1.05" fill="#000"/>
<rect x="241.27" y="342.75" width="3.7" height="1.05" fill="#000"/>
<text x="300" y="343.7" font-size="12.4" text-anchor="middle" fill="#000" stroke="#000" stroke-width="0.3" font-family="Liberation Sans, sans-serif" textLength="15.3" lengthAdjust="spacingAndGlyphs">AC</text>
<text x="390.6" y="343.7" font-size="12.4" text-anchor="middle" fill="#000" stroke="#000" stroke-width="0.3" font-family="Liberation Sans, sans-serif" textLength="18.4" lengthAdjust="spacingAndGlyphs">PSI</text>
<rect x="396.07" y="334.72" width="3.7" height="1.05" fill="#000"/>
<rect x="396.07" y="342.75" width="3.7" height="1.05" fill="#000"/>
<text x="454.3" y="343.7" font-size="12.4" text-anchor="middle" fill="#000" stroke="#000" stroke-width="0.3" font-family="Liberation Sans, sans-serif" textLength="15.4" lengthAdjust="spacingAndGlyphs">AC</text>
<text x="580.4" y="343.7" font-size="12.4" text-anchor="middle" fill="#000" stroke="#000" stroke-width="0.3" font-family="Liberation Sans, sans-serif" textLength="18.8" lengthAdjust="spacingAndGlyphs">PSI</text>
<rect x="586.03" y="334.72" width="3.7" height="1.05" fill="#000"/>
<rect x="586.03" y="342.75" width="3.7" height="1.05" fill="#000"/>
<text x="644.7" y="343.7" font-size="12.4" text-anchor="middle" fill="#000" stroke="#000" stroke-width="0.3" font-family="Liberation Sans, sans-serif" textLength="15.2" lengthAdjust="spacingAndGlyphs">AC</text>
<text x="51.5" y="149.9" font-size="12.2" fill="#1a1a1a" stroke="#1a1a1a" stroke-width="0.1" font-family="Liberation Sans, sans-serif" textLength="49" lengthAdjust="spacingAndGlyphs">*<tspan font-style="italic">p</tspan>=.009</text>
<text x="293" y="150.1" font-size="12.2" fill="#1a1a1a" stroke="#1a1a1a" stroke-width="0.1" font-family="Liberation Sans, sans-serif" textLength="35.3" lengthAdjust="spacingAndGlyphs"><tspan font-style="italic">p</tspan>=.52</text>
<text x="449" y="149.7" font-size="12.2" fill="#1a1a1a" stroke="#1a1a1a" stroke-width="0.1" font-family="Liberation Sans, sans-serif" textLength="36.1" lengthAdjust="spacingAndGlyphs"><tspan font-style="italic">p</tspan>=.70</text>
<text x="547" y="150.6" font-size="12.2" fill="#1a1a1a" stroke="#1a1a1a" stroke-width="0.1" font-family="Liberation Sans, sans-serif" textLength="36.2" lengthAdjust="spacingAndGlyphs">p=.23</text>
<text x="136.6" y="327.7" font-size="12.2" fill="#1a1a1a" stroke="#1a1a1a" stroke-width="0.1" font-family="Liberation Sans, sans-serif" textLength="35.7" lengthAdjust="spacingAndGlyphs"><tspan font-style="italic">p</tspan>=.88</text>
<text x="293" y="329.6" font-size="12.2" fill="#1a1a1a" stroke="#1a1a1a" stroke-width="0.1" font-family="Liberation Sans, sans-serif" textLength="35.2" lengthAdjust="spacingAndGlyphs">p=.23</text>
<text x="436.3" y="329" font-size="12.2" fill="#1a1a1a" stroke="#1a1a1a" stroke-width="0.1" font-family="Liberation Sans, sans-serif" textLength="49" lengthAdjust="spacingAndGlyphs">*<tspan font-style="italic">p</tspan>=.043</text>
<text x="639.5" y="328.6" font-size="12.2" fill="#1a1a1a" stroke="#1a1a1a" stroke-width="0.1" font-family="Liberation Sans, sans-serif" textLength="35.5" lengthAdjust="spacingAndGlyphs">p=.71</text>
<text transform="translate(33.3,111.5) rotate(-90)" x="0" y="0" font-size="12.2" fill="#383838" font-family="Liberation Sans, sans-serif" textLength="57" lengthAdjust="spacing">Emotional</text>
<text transform="translate(187.3,103.9) rotate(-90)" x="0" y="0" font-size="12.2" fill="#383838" font-family="Liberation Sans, sans-serif" textLength="43.4" lengthAdjust="spacing">Cultural</text>
<text transform="translate(342.6,110.8) rotate(-90)" x="0" y="0" font-size="12.2" fill="#383838" font-family="Liberation Sans, sans-serif" textLength="61.4" lengthAdjust="spacing">Perceptual</text>
<text transform="translate(524.2,130.9) rotate(-90)" x="0" y="0" font-size="12.2" fill="#383838" font-family="Liberation Sans, sans-serif" textLength="109.3" lengthAdjust="spacing">Emotional Valence</text>
<text transform="translate(33.3,298.9) rotate(-90)" x="0" y="0" font-size="12.2" fill="#383838" font-family="Liberation Sans, sans-serif" textLength="84.7" lengthAdjust="spacing">Understanding</text>
<text transform="translate(187.6,297.3) rotate(-90)" x="0" y="0" font-size="12.2" fill="#383838" font-family="Liberation Sans, sans-serif" textLength="91.4" lengthAdjust="spacing">Flow Conditions</text>
<text transform="translate(342.8,298.7) rotate(-90)" x="0" y="0" font-size="12.2" fill="#383838" font-family="Liberation Sans, sans-serif" textLength="94.5" lengthAdjust="spacing">Flow Experience</text>
<text transform="translate(524.2,298.4) rotate(-90)" x="0" y="0" font-size="12.2" fill="#383838" font-family="Liberation Sans, sans-serif" textLength="82.1" lengthAdjust="spacing">Beauty Rating</text>
<text transform="translate(16.5,195.1) rotate(-90)" x="0" y="0" font-size="12.2" fill="#383838" font-family="Liberation Sans, sans-serif" textLength="68.5" lengthAdjust="spacing">AEQ factors</text>
<text x="1.0" y="9.3" font-size="15.2" font-weight="bold" fill="#000" font-family="Liberation Sans, sans-serif" textLength="8.3" lengthAdjust="spacingAndGlyphs">a</text>
<text x="499.4" y="10.8" font-size="13.8" font-weight="bold" fill="#000" font-family="Liberation Sans, sans-serif" textLength="9.0" lengthAdjust="spacingAndGlyphs">b</text>
</g>
</svg>
</body></html>
